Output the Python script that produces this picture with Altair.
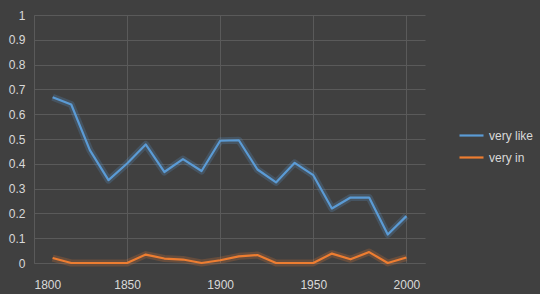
import altair as alt
import pandas as pd

years = [1810, 1820, 1830, 1840, 1850, 1860, 1870, 1880, 1890, 1900,
         1910, 1920, 1930, 1940, 1950, 1960, 1970, 1980, 1990, 2000]
very_like = [0.668, 0.639, 0.455, 0.334, 0.401, 0.478, 0.367, 0.419, 0.371, 0.493,
             0.495, 0.377, 0.325, 0.404, 0.354, 0.220, 0.264, 0.264, 0.115, 0.189]
very_in = [0.020, 0.0, 0.0, 0.0, 0.0, 0.034, 0.018, 0.014, 0.0, 0.011,
           0.027, 0.032, 0.0, 0.0, 0.0, 0.038, 0.015, 0.044, 0.0, 0.022]
series = ["very like", "very in"]
colors = ["#5B9BD5", "#ED7D31"]
x_ticks = [1800, 1850, 1900, 1950, 2000]
y_ticks = [0, 0.1, 0.2, 0.3, 0.4, 0.5, 0.6, 0.7, 0.8, 0.9, 1]

rows = []
for y, a, b in zip(years, very_like, very_in):
    rows.append({"year": y, "value": a, "series": series[0]})
    rows.append({"year": y, "value": b, "series": series[1]})
df = pd.DataFrame(rows)

FONT = "Liberation Sans"
LBL = "#d9d9d9"
GRID = "#5a5a5a"

x = alt.X("year:Q", scale=alt.Scale(domain=[1800, 2010], nice=False, zero=False),
          axis=alt.Axis(values=x_ticks, title=None, format="d", ticks=False,
                        labelPadding=16, gridColor=GRID, domainColor=GRID,
                        labelColor=LBL, labelFont=FONT, labelFontSize=12))
y = alt.Y("value:Q", scale=alt.Scale(domain=[0, 1], nice=False),
          axis=alt.Axis(values=y_ticks, title=None, ticks=False, labelPadding=9,
                        format="~g", gridColor=GRID, domainColor=GRID,
                        labelColor=LBL, labelFont=FONT, labelFontSize=12))
color_scale = alt.Scale(domain=series, range=colors)
legend = alt.Legend(title=None, orient="none", legendX=424, legendY=107,
                    symbolType="stroke", symbolSize=576, symbolOpacity=1,
                    symbolStrokeWidth=2.2, rowPadding=2,
                    labelColor=LBL, labelFont=FONT, labelFontSize=12,
                    labelOffset=4)
color = alt.Color("series:N", scale=color_scale, sort=series, legend=legend)

glow = alt.Chart(df).mark_line(strokeWidth=7, opacity=0.22, strokeJoin="round").encode(
    x=x, y=y, color=color,
)
lines = alt.Chart(df).mark_line(strokeWidth=2.2, strokeJoin="round").encode(
    x=x, y=y, color=color,
)

chart = (glow + lines).properties(
    width=391, height=248,
    background="#404040",
    padding={"left": 34, "top": 15, "right": 115, "bottom": 31},
    autosize=alt.AutoSizeParams(type="none"),
).configure_view(stroke=None)

chart.save("out.html", embed_options={"renderer": "svg", "actions": False})
